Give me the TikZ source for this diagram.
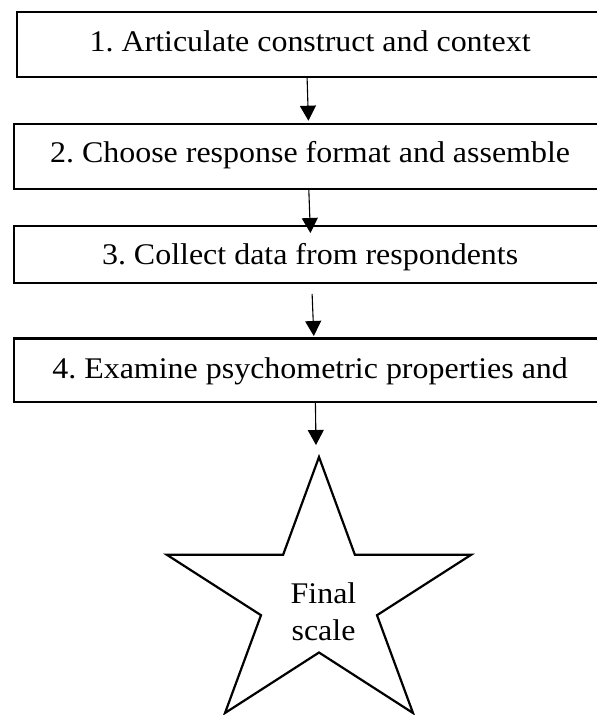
\documentclass[tikz,border=0pt]{standalone}
\usepackage{fontspec}
\setmainfont{Liberation Serif}
\usetikzlibrary{arrows.meta}
\frenchspacing
\newcommand\hstretch[1]{\scalebox{1.065}[1]{#1}}
\tikzset{
  stepbox/.style={draw, line width=2.2bp, inner sep=0pt, anchor=north west,
    font=\fontsize{30bp}{37bp}\selectfont},
  arr/.style={line width=1.1bp, -{Triangle[width=16bp,length=15bp]}},
  starline/.style={draw, line width=2.2bp, line join=miter},
}
\begin{document}
\begin{tikzpicture}[x=1bp,y=-1bp]
\useasboundingbox (0,0) rectangle (597,715);
\clip (0,0) rectangle (597,715);
\fill[white] (0,0) rectangle (597,715);
% boxes
\node[stepbox, minimum width=586bp, text height=39.7bp, text depth=25.3bp] (b1) at (16,11)
  {\hstretch{1. Articulate construct and context}};
\node[stepbox, minimum width=592bp, text height=39bp, text depth=26bp] (b2) at (13,122.7)
  {\hstretch{2. Choose response format and assemble}};
\node[stepbox, minimum width=592bp, text height=38.5bp, text depth=18.7bp] (b3) at (13,224.5)
  {\hstretch{3. Collect data from respondents}};
\node[stepbox, minimum width=592bp, text height=40bp, text depth=23.4bp] (b4) at (13,337.3)
  {\hstretch{4. Examine psychometric properties and}};
% star
\coordinate (startop) at (319,457);
\path[starline] (startop) -- (354.9,554.8) -- (471.1,554.8) -- (377,615.2) -- (413,713)
  -- (319,652.5) -- (225,713) -- (261,615.2) -- (166.9,554.8) -- (283.1,554.8) -- cycle;
\node[font=\fontsize{30bp}{37bp}\selectfont, align=center, anchor=base, inner sep=0pt] (final) at (323.5,640)
  {\hstretch{Final}\\\hstretch{scale}};
% arrows
\draw[arr] ([xshift=-3bp]b1.south) -- ([xshift=-1.7bp,yshift=2bp]b2.north);
\draw[arr] ([xshift=-1.3bp]b2.south) -- ([xshift=0.3bp,yshift=-8.5bp]b3.north);
\draw[arr] ([xshift=2bp,yshift=-10bp]b3.south) -- ([xshift=3.7bp,yshift=1.3bp]b4.north);
\draw[arr] ([xshift=5.3bp]b4.south) -- ([xshift=-3bp,yshift=12bp]startop);
\end{tikzpicture}
\end{document}
